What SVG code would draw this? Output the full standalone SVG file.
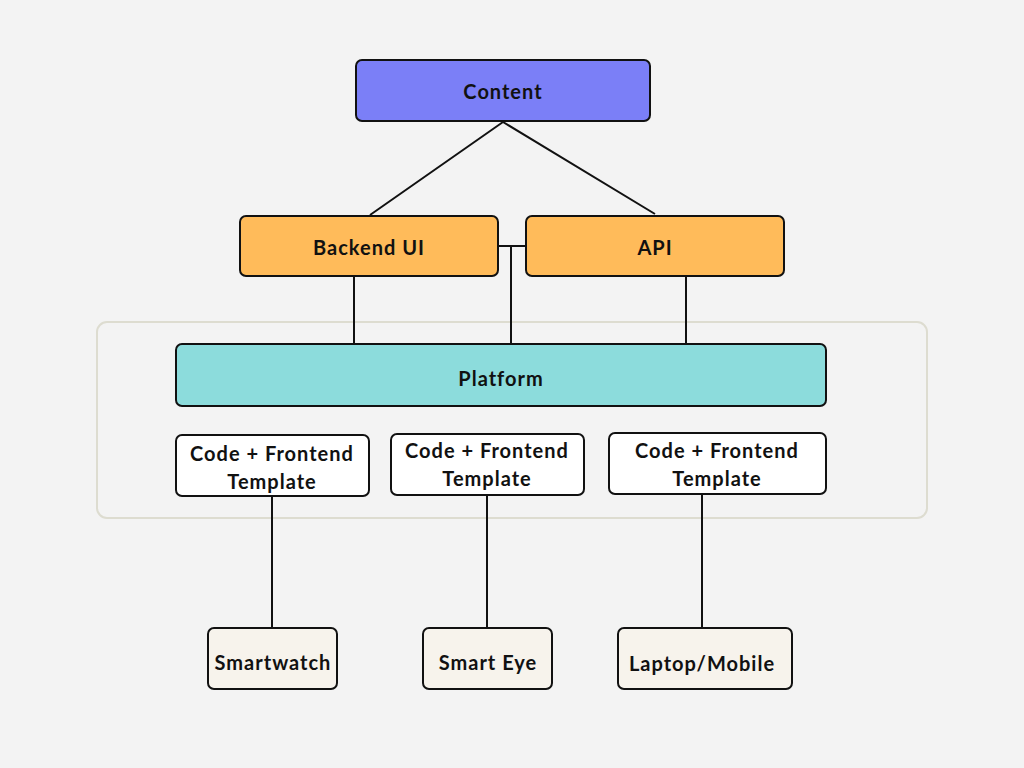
<svg xmlns="http://www.w3.org/2000/svg" width="1024" height="768" viewBox="0 0 1024 768">
<style>
.n{stroke:#111;stroke-width:2}
.t{font-family:Lato,"Open Sans",sans-serif;font-weight:bold;font-size:20px;fill:#111;text-anchor:middle;dominant-baseline:central;letter-spacing:1px}
.c{stroke:#111;stroke-width:2;fill:none}
</style>
<rect width="1024" height="768" fill="#f3f3f3"/>
<rect id="container" x="97" y="322" width="830" height="196" rx="10" fill="#f3f3f3" stroke="#dddcd0" stroke-width="2"/>
<g id="connectors">
<path class="c" d="M503 122 L370 215 M503 122 L655 214"/>
<path class="c" d="M498 246 H526 M511 246 V344"/>
<path class="c" d="M354 276 V344 M686 276 V344"/>
<path class="c" d="M272 496 V628 M487 495 V628 M702 494 V628"/>
</g>
<g id="content"><rect class="n" x="356" y="60" width="294" height="61" rx="6" fill="#7b7ff7"/><text class="t" x="503" y="91">Content</text></g>
<g id="backend"><rect class="n" x="240" y="216" width="258" height="60" rx="6" fill="#ffbb5a"/><text class="t" x="369" y="247">Backend UI</text></g>
<g id="api"><rect class="n" x="526" y="216" width="258" height="60" rx="6" fill="#ffbb5a"/><text class="t" x="655" y="247">API</text></g>
<g id="platform"><rect class="n" x="176" y="344" width="650" height="62" rx="6" fill="#8cdcdc"/><text class="t" x="501" y="378">Platform</text></g>
<g id="code1"><rect class="n" x="176" y="435" width="193" height="61" rx="6" fill="#fff"/><text class="t" x="272" y="453">Code + Frontend</text><text class="t" x="272" y="481">Template</text></g>
<g id="code2"><rect class="n" x="391" y="434" width="193" height="61" rx="6" fill="#fff"/><text class="t" x="487" y="450">Code + Frontend</text><text class="t" x="487" y="478">Template</text></g>
<g id="code3"><rect class="n" x="609" y="433" width="217" height="61" rx="6" fill="#fff"/><text class="t" x="717" y="450">Code + Frontend</text><text class="t" x="717" y="478">Template</text></g>
<g id="smartwatch"><rect class="n" x="208" y="628" width="129" height="61" rx="6" fill="#f7f3ec"/><text class="t" x="273" y="662">Smartwatch</text></g>
<g id="smarteye"><rect class="n" x="423" y="628" width="129" height="61" rx="6" fill="#f7f3ec"/><text class="t" x="488" y="662">Smart Eye</text></g>
<g id="laptop"><rect class="n" x="618" y="628" width="174" height="61" rx="6" fill="#f7f3ec"/><text class="t" x="702" y="663">Laptop/Mobile</text></g>
</svg>
